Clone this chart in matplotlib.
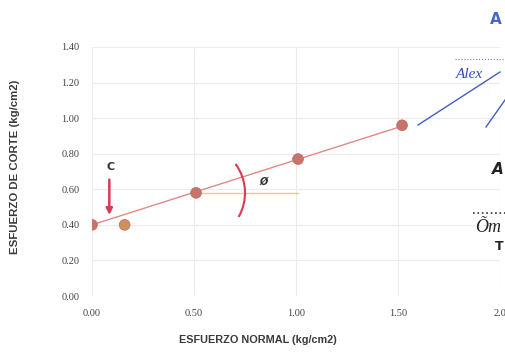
import numpy as np
import matplotlib.pyplot as plt
from matplotlib.patches import Arc

# datos
normal = [0.00, 0.16, 0.51, 1.01, 1.52]
corte = [0.40, 0.40, 0.58, 0.77, 0.96]
x_ticks = [0.0, 0.5, 1.0, 1.5, 2.0]
x_labels = ["0.00", "0.50", "1.00", "1.50", "2.0"]
y_ticks = [0.0, 0.2, 0.4, 0.6, 0.8, 1.0, 1.2, 1.4]
y_labels = ["0.00", "0.20", "0.40", "0.60", "0.80", "1.00", "1.20", "1.40"]
recta_x = [0.00, 1.52]
recta_y = [0.40, 0.955]

fig = plt.figure(figsize=(5.05, 3.52), dpi=100)
ax = fig.add_axes([92/505, 56/352, 408/505, 249/352])
ax.set_xlim(0, 2.0)
ax.set_ylim(0, 1.4)

ax.set_xticks(x_ticks)
ax.set_xticklabels(x_labels, family="Liberation Serif", fontsize=7.5, color="#444444")
ax.set_yticks(y_ticks)
ax.set_yticklabels(y_labels, family="Liberation Serif", fontsize=7.5, color="#444444")
ax.tick_params(length=0, pad=9)
for s in ax.spines.values():
    s.set_visible(False)
ax.grid(True, color="#ececec", linewidth=0.8)
ax.set_axisbelow(True)

ax.plot(recta_x, recta_y, color="#e08a85", linewidth=1.0, zorder=2)
ax.plot([normal[2], normal[3]], [corte[2], corte[2]], color="#e0d08a", linewidth=1.0, zorder=2)
ax.scatter(normal, corte, s=60, color=["#c9746a", "#cf9060", "#c9746a", "#c9746a", "#c9746a"],
           edgecolor="#b86a5e", linewidth=0.5, zorder=3)

# cohesion
ax.annotate("", xy=(0.085, 0.44), xytext=(0.085, 0.67),
            arrowprops=dict(arrowstyle="-|>", color="#d93a55", lw=1.8, mutation_scale=9))
ax.text(0.09, 0.695, "C", fontsize=8, fontweight="bold", color="#333333", ha="center", va="bottom")

# angulo de friccion
ax.add_patch(Arc((normal[2], corte[2]), 0.48, 0.55, theta1=-33, theta2=40,
                 color="#d93a55", linewidth=1.5, zorder=2))
ax.text(0.84, 0.615, "Ø", fontsize=7, fontweight="bold", style="italic", color="#333333",
        ha="center", va="bottom")

lab = dict(family="Liberation Sans", fontweight="bold", color="#3a3a3a")
ax.set_xlabel("ESFUERZO NORMAL (kg/cm2)", fontsize=7.8, **lab)
ax.xaxis.set_label_coords((258 - 92) / 408, -(340 - 296) / 249)
ax.xaxis.label.set_va("center")
ax.set_ylabel("ESFUERZO DE CORTE (kg/cm2)", fontsize=8.2, **lab)
ax.yaxis.set_label_coords(-(92 - 15) / 408, (296 - 167) / 249)
ax.yaxis.label.set_va("center")

# firmas y sellos
fig.add_artist(plt.Line2D([418/505, 500/505], [1-125/352, 1-72/352], color="#4060c0", lw=1.0))
fig.add_artist(plt.Line2D([486/505, 505/505], [1-127/352, 1-100/352], color="#4060c0", lw=1.0))
fig.add_artist(plt.Line2D([455/505, 505/505], [1-59/352, 1-59/352], color="#7080c0", lw=0.8, ls=":"))
fig.text(490/505, 1-20/352, "A", color="#4a66c8", fontsize=11, fontweight="bold", va="center")
fig.text(456/505, 1-74/352, "Alex", color="#3050c0", fontsize=11, style="italic",
         family="Liberation Serif", va="center")
fig.text(492/505, 1-170/352, "A", color="#222222", fontsize=11, fontweight="bold", style="italic", va="center")
fig.add_artist(plt.Line2D([473/505, 505/505], [1-213/352, 1-213/352], color="#333333", lw=1.2, ls=":"))
fig.text(475/505, 1-228/352, "Õm", color="#222222", fontsize=13, style="italic",
         family="Liberation Serif", va="center")
fig.text(495/505, 1-246/352, "T", color="#222222", fontsize=9, fontweight="bold", va="center")

fig.savefig("out.png", dpi=100)
